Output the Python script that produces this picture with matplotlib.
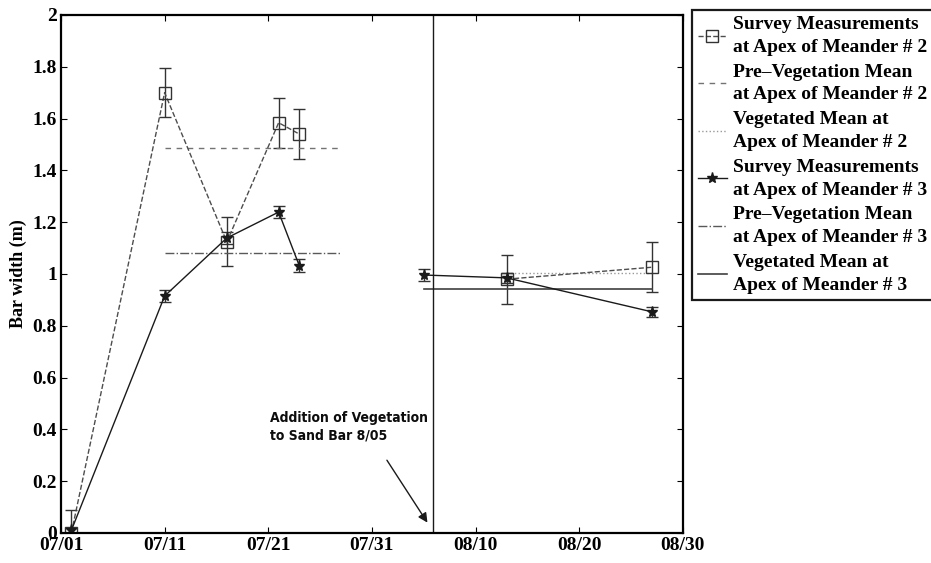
import numpy as np
import pandas as pd
import matplotlib
matplotlib.use('Agg')
import matplotlib.pyplot as plt
import matplotlib.dates as mdates
from matplotlib.lines import Line2D

# ширина косы в вершине меандра, даты замеров мм/дд
m2_dates = ['07/02', '07/11', '07/17', '07/22', '07/24', '08/13', '08/27']
m2_width = [0.0, 1.70, 1.124, 1.584, 1.54, 0.98, 1.026]
m2_err = [0.09, 0.095, 0.095, 0.097, 0.097, 0.095, 0.097]

m3_dates = ['07/02', '07/11', '07/17', '07/22', '07/24', '08/05', '08/13', '08/27']
m3_width = [0.01, 0.915, 1.139, 1.239, 1.031, 0.996, 0.985, 0.854]
m3_err = [0.01, 0.025, 0.025, 0.024, 0.025, 0.023, 0.02, 0.02]

# средние до и после посадки растительности
pre_span = ['07/11', '07/28']
m2_pre_mean = 1.487
m3_pre_mean = 1.082
m2_veg_span = ['08/13', '08/27']
m2_veg_mean = 1.003
m3_veg_span = ['08/05', '08/27']
m3_veg_mean = 0.943

split_date = '08/01'  # граница серий до/после посадки
veg_date = '08/05 22:00'
tick_dates = ['07/01', '07/11', '07/21', '07/31', '08/10', '08/20', '08/30']
yticks = [0, 0.2, 0.4, 0.6, 0.8, 1, 1.2, 1.4, 1.6, 1.8, 2]


def d(s):
    return mdates.date2num(pd.to_datetime('2004/' + s, format='%Y/%m/%d %H:%M' if ':' in s else '%Y/%m/%d'))


def dd(lst):
    return np.array([d(s) for s in lst])


serif = {'family': 'Liberation Serif', 'weight': 'bold'}
st2 = dict(color='0.3', ls='--', lw=1.0, marker='s', ms=8, mfc='none', mec='0.2', mew=1.0)
st3 = dict(color='0.1', ls='-', lw=1.0, marker='*', ms=8, mfc='0.1', mec='0.1')

fig = plt.figure(figsize=(9.31, 5.63), dpi=100)
ax = fig.add_axes([0.0655, 0.0533, 0.668, 0.9201])

veg = d(veg_date)
split = d(split_date)
x2, y2, e2 = dd(m2_dates), np.array(m2_width), np.array(m2_err)
x3, y3, e3 = dd(m3_dates), np.array(m3_width), np.array(m3_err)

for part in [x2 < split, x2 > split]:
    ax.errorbar(x2[part], y2[part], yerr=e2[part], ecolor='0.2', elinewidth=1.0, capsize=4, **st2)
for part in [x3 < split, x3 > split]:
    ax.errorbar(x3[part], y3[part], yerr=e3[part], ecolor='0.2', elinewidth=1.0, capsize=4, **st3)

l2pre, = ax.plot(dd(pre_span), [m2_pre_mean] * 2, color='0.45', ls=(0, (4, 4)), lw=1.0)
l2veg, = ax.plot(dd(m2_veg_span), [m2_veg_mean] * 2, color='0.6', ls=':', lw=1.0)
l3pre, = ax.plot(dd(pre_span), [m3_pre_mean] * 2, color='0.35', ls='-.', lw=1.0)
l3veg, = ax.plot(dd(m3_veg_span), [m3_veg_mean] * 2, color='0.25', ls='-', lw=1.2)

ax.axvline(veg, color='0.1', lw=1.0)

ax.annotate('', xy=(d('07/01') + 35.5, 0.031), xytext=(d('07/01') + 31.3, 0.29),
            arrowprops=dict(arrowstyle='-|>', color='0.1', lw=1.0, mutation_scale=14))
ax.text(d('07/01') + 35.4, 0.47, 'Addition of Vegetation\nto Sand Bar 8/05',
        ha='right', va='top', ma='left', fontsize=10, fontweight='bold', fontstretch='condensed',
        family='DejaVu Sans', linespacing=1.25, color='0.05')

ax.set_xlim(d('07/01'), d('08/30'))
ax.set_ylim(0, 2)
ax.set_xticks(dd(tick_dates))
ax.set_xticklabels(tick_dates)
ax.set_yticks(yticks)
ax.set_yticklabels([f'{v:g}' for v in yticks])
for lab in ax.get_xticklabels() + ax.get_yticklabels():
    lab.set_fontproperties(serif)
    lab.set_fontsize(14)
ax.tick_params(direction='in', length=4, width=0.8, top=True, right=True, pad=3)
for sp in ax.spines.values():
    sp.set_linewidth(1.6)
ax.set_ylabel('Bar width (m)', fontdict=serif, fontsize=13, labelpad=4)

labels = ['Survey Measurements\nat Apex of Meander # 2',
          'Pre\u2013Vegetation Mean\nat Apex of Meander # 2',
          'Vegetated Mean at\nApex of Meander # 2',
          'Survey Measurements\nat Apex of Meander # 3',
          'Pre\u2013Vegetation Mean\nat Apex of Meander # 3',
          'Vegetated Mean at\nApex of Meander # 3']
handles = [Line2D([], [], **st2), l2pre, l2veg, Line2D([], [], **st3), l3pre, l3veg]
leg = ax.legend(handles, labels, loc='upper left', bbox_to_anchor=(0.743, 0.982),
                bbox_transform=fig.transFigure, prop={**serif, 'size': 14},
                frameon=True, fancybox=False, edgecolor='0.1', framealpha=1,
                handlelength=1.5, handletextpad=0.3, borderpad=0.3,
                labelspacing=0.4, borderaxespad=0)
leg.get_frame().set_linewidth(1.6)
for t in leg.get_texts():
    t.set_linespacing(1.45)

fig.savefig('out.png', dpi=100)
